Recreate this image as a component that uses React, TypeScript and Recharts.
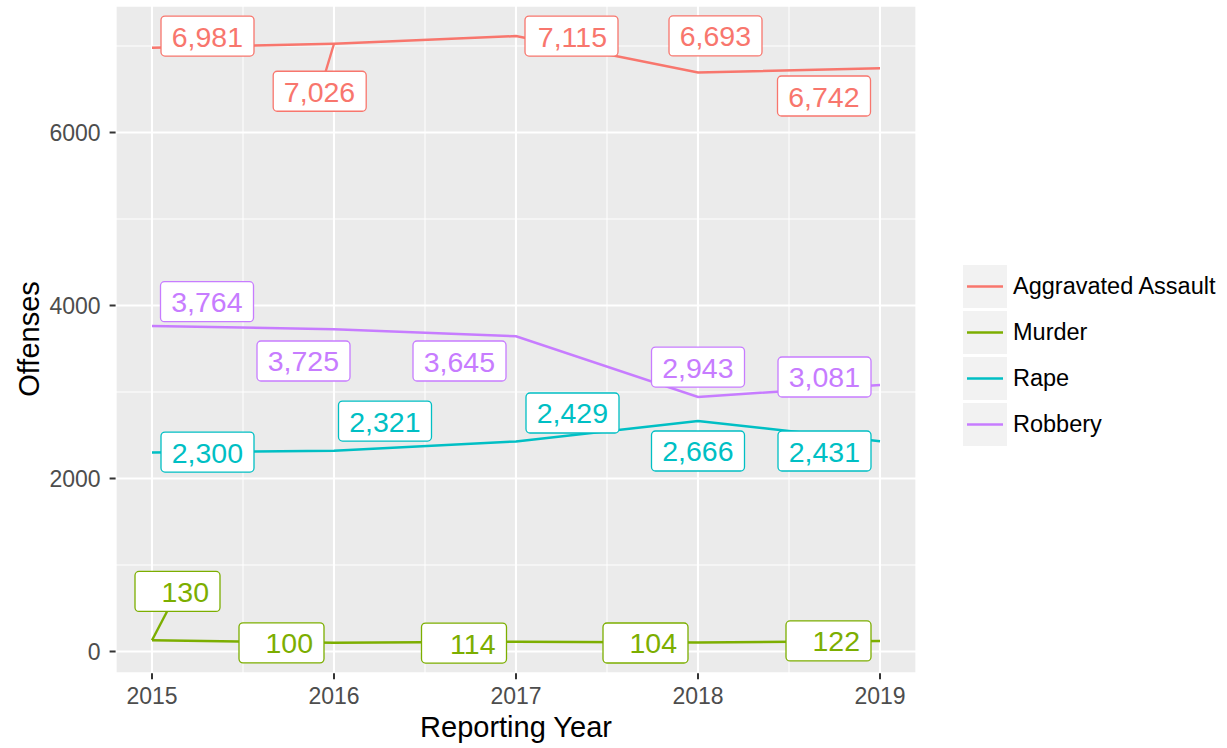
import {
  CartesianGrid,
  Label,
  LabelList,
  Legend,
  Line,
  LineChart,
  XAxis,
  YAxis,
} from "recharts";

const years = [2015, 2016, 2017, 2018, 2019];
const aggravatedAssault = [6981, 7026, 7115, 6693, 6742];
const murder = [130, 100, 114, 104, 122];
const rape = [2300, 2321, 2429, 2666, 2431];
const robbery = [3764, 3725, 3645, 2943, 3081];

const yTicks = [0, 2000, 4000, 6000];
const yMinor = [1000, 3000, 5000, 7000];
const xMinor = [2015.5, 2016.5, 2017.5, 2018.5];
const xDomain: [number, number] = [2014.8, 2019.2];
const yDomain: [number, number] = [-251, 7466];

const FONT = '"Liberation Sans", Arial, Helvetica, sans-serif';

const series = [
  { name: "Aggravated Assault", key: "assault", color: "#F8766D", values: aggravatedAssault },
  { name: "Murder", key: "murder", color: "#7CAE00", values: murder },
  { name: "Rape", key: "rape", color: "#00BFC4", values: rape },
  { name: "Robbery", key: "robbery", color: "#C77CFF", values: robbery },
];

// where ggrepel pushed each label, in px from its point
const nudges: Record<string, [number, number][]> = {
  assault: [[55.5, -11.6], [-14.3, 47.5], [55.5, 0], [17.5, -36.6], [-56, 27.7]],
  murder: [[25.5, -48.8], [-52.5, 0], [-52, 1.4], [-52.5, 0.5], [-51.5, 0]],
  rape: [[55.5, -0.5], [51, -29.7], [56.5, -28.4], [0, 30.1], [-55.5, 9.8]],
  robbery: [[55, -24.2], [-30.5, 31.7], [-56.5, 24.8], [0, -29.9], [-55.5, -8]],
};

const data = years.map((year, i) => {
  const row: Record<string, number> = { year };
  series.forEach((s) => {
    row[s.key] = s.values[i];
  });
  return row;
});

const fmt = (v: number) => String(v).replace(/\B(?=(\d{3})+(?!\d))/g, ",");

function makeLabel(s: (typeof series)[number]) {
  return (props: any) => {
    const { x, y, value } = props;
    let idx = props.index;
    if (idx == null || nudges[s.key][idx] == null) idx = s.values.indexOf(Number(value));
    const [dx, dy] = nudges[s.key][idx] || [0, 0];
    const text = fmt(Number(value));
    const w = text.length > 3 ? 93 : 85;
    const h = 40;
    const cx = x + dx;
    const cy = y + dy;
    const left = cx - w / 2;
    const top = cy - h / 2;
    const tx = dx !== 0 ? w / 2 / Math.abs(dx) : Infinity;
    const ty = dy !== 0 ? h / 2 / Math.abs(dy) : Infinity;
    const t = 1 - Math.min(tx, ty, 1);
    const ex = x + dx * t;
    const ey = y + dy * t;
    const showSeg = Math.hypot(ex - x, ey - y) > 22;
    return (
      <g>
        {showSeg && <line x1={x} y1={y} x2={ex} y2={ey} stroke={s.color} strokeWidth={2.4} />}
        <rect x={left} y={top} width={w} height={h} rx={4} fill="#fff" stroke={s.color} strokeWidth={1.3} />
        <text
          x={left + w - 11}
          y={top + 30.5}
          textAnchor="end"
          fontSize={28.5}
          fontFamily={FONT}
          fill={s.color}
        >
          {text}
        </text>
      </g>
    );
  };
}

const renderLegend = () => (
  <div style={{ fontFamily: FONT }}>
    {series.map((s) => (
      <div key={s.key} style={{ display: "flex", alignItems: "center", height: 46 }}>
        <svg width={44} height={43} style={{ display: "block" }}>
          <rect width={44} height={43} fill="#F2F2F2" />
          <line x1={4} x2={40} y1={21.5} y2={21.5} stroke={s.color} strokeWidth={2.5} />
        </svg>
        <span style={{ marginLeft: 6, fontSize: 23.5, color: "#000", lineHeight: 1 }}>{s.name}</span>
      </div>
    ))}
  </div>
);

// minor grid lines sit halfway between the major ones
const minorY = ({ offset }: any) =>
  yMinor.map((v) => offset.top + (offset.height * (yDomain[1] - v)) / (yDomain[1] - yDomain[0]));
const minorX = ({ offset }: any) =>
  xMinor.map((v) => offset.left + (offset.width * (v - xDomain[0])) / (xDomain[1] - xDomain[0]));

export default function App() {
  return (
    <div style={{ position: "absolute", left: 0, top: 0, width: 1227, height: 748, background: "#fff" }}>
      <LineChart
        width={1227}
        height={748}
        data={data}
        margin={{ top: 5.7, right: 310.6, bottom: 44.8, left: 55.6 }}
      >
        <CartesianGrid
          fill="#EBEBEB"
          stroke="#fff"
          strokeWidth={1}
          horizontalCoordinatesGenerator={minorY}
          verticalCoordinatesGenerator={minorX}
        />
        <CartesianGrid stroke="#fff" strokeWidth={2.1} />
        <XAxis
          dataKey="year"
          type="number"
          domain={xDomain}
          ticks={years}
          allowDataOverflow
          height={30}
          axisLine={false}
          tickSize={6}
          tickMargin={8}
          tickLine={{ stroke: "#333", strokeWidth: 2 }}
          tick={{ fill: "#4D4D4D", fontSize: 23, fontFamily: FONT }}
        >
          <Label
            content={() => (
              <text x={516} y={737} textAnchor="middle" fontSize={29} fontFamily={FONT} fill="#000">
                Reporting Year
              </text>
            )}
          />
        </XAxis>
        <YAxis
          type="number"
          domain={yDomain}
          ticks={yTicks}
          allowDataOverflow
          width={60}
          axisLine={false}
          tickSize={6}
          tickMargin={9}
          tickLine={{ stroke: "#333", strokeWidth: 2 }}
          tick={{ fill: "#4D4D4D", fontSize: 23, fontFamily: FONT }}
        >
          <Label
            content={() => (
              <text
                x={39}
                y={339}
                transform="rotate(-90 39 339)"
                textAnchor="middle"
                fontSize={29}
                fontFamily={FONT}
                fill="#000"
              >
                Offenses
              </text>
            )}
          />
        </YAxis>
        {series.map((s) => (
          <Line
            key={s.key}
            dataKey={s.key}
            type="linear"
            stroke={s.color}
            strokeWidth={2.5}
            dot={false}
            activeDot={false}
            isAnimationActive={false}
          />
        ))}
        {series.map((s) => (
          <Line
            key={s.key + "-labels"}
            dataKey={s.key}
            type="linear"
            stroke="none"
            dot={false}
            activeDot={false}
            legendType="none"
            isAnimationActive={false}
          >
            <LabelList dataKey={s.key} content={makeLabel(s)} />
          </Line>
        ))}
        <Legend
          layout="horizontal"
          verticalAlign="middle"
          align="center"
          content={renderLegend}
          wrapperStyle={{ position: "absolute", left: 963, top: 263.5, width: 264 }}
        />
      </LineChart>
    </div>
  );
}
